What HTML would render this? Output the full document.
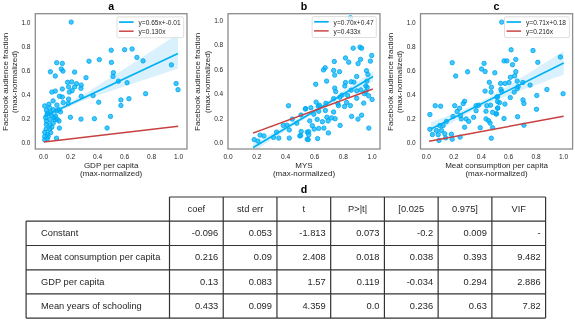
<!DOCTYPE html>
<html><head><meta charset="utf-8"><style>
html,body{margin:0;padding:0;background:#fff;}
svg{display:block;font-family:"Liberation Sans", sans-serif;will-change:transform;}
</style></head><body>
<svg width="575" height="321" viewBox="0 0 575 321">
<rect width="575" height="321" fill="#fff"/>
<text x="111.15" y="9.95" font-size="10.6" font-weight="bold" text-anchor="middle" fill="#000">a</text>
<text x="43.70" y="158.6" font-size="6.6" text-anchor="middle" fill="#262626">0.0</text>
<text x="70.66" y="158.6" font-size="6.6" text-anchor="middle" fill="#262626">0.2</text>
<text x="97.62" y="158.6" font-size="6.6" text-anchor="middle" fill="#262626">0.4</text>
<text x="124.58" y="158.6" font-size="6.6" text-anchor="middle" fill="#262626">0.6</text>
<text x="151.54" y="158.6" font-size="6.6" text-anchor="middle" fill="#262626">0.8</text>
<text x="178.50" y="158.6" font-size="6.6" text-anchor="middle" fill="#262626">1.0</text>
<text x="30.50" y="144.95" font-size="6.5" text-anchor="end" fill="#262626">0.0</text>
<text x="30.50" y="120.91" font-size="6.5" text-anchor="end" fill="#262626">0.2</text>
<text x="30.50" y="96.87" font-size="6.5" text-anchor="end" fill="#262626">0.4</text>
<text x="30.50" y="72.83" font-size="6.5" text-anchor="end" fill="#262626">0.6</text>
<text x="30.50" y="48.79" font-size="6.5" text-anchor="end" fill="#262626">0.8</text>
<text x="30.50" y="24.75" font-size="6.5" text-anchor="end" fill="#262626">1.0</text>
<text x="111.15" y="167.6" font-size="8.0" text-anchor="middle" fill="#262626">GDP per capita</text>
<text x="111.15" y="176.2" font-size="8.0" text-anchor="middle" fill="#262626">(max-normalized)</text>
<g transform="translate(7.50,81.85) rotate(-90)"><text x="0" y="0" font-size="8.0" text-anchor="middle" fill="#262626">Facebook audience fraction</text><text x="0" y="9.6" font-size="8.0" text-anchor="middle" fill="#262626">(max-normalized)</text></g>
<clipPath id="clipa"><rect x="35.3" y="13.7" width="151.7" height="135.3"/></clipPath>
<g clip-path="url(#clipa)">
<polygon points="43.9,110.6 47.3,109.5 50.6,108.4 54.0,107.3 57.3,106.2 60.7,105.0 64.0,103.8 67.4,102.4 70.7,101.0 74.1,99.4 77.4,97.7 80.8,95.9 84.1,93.9 87.5,92.0 90.8,89.9 94.2,87.9 97.5,85.8 100.9,83.7 104.2,81.6 107.6,79.4 110.9,77.3 114.3,75.2 117.7,73.0 121.0,70.9 124.4,68.7 127.7,66.6 131.1,64.4 134.4,62.2 137.8,60.1 141.1,57.9 144.5,55.7 147.8,53.6 151.2,51.4 154.5,49.2 157.9,47.0 161.2,44.9 164.6,42.7 167.9,40.5 171.3,38.3 174.6,36.2 178.0,34.0 178.0,68.7 174.6,69.8 171.3,70.9 167.9,72.0 164.6,73.1 161.2,74.2 157.9,75.3 154.5,76.4 151.2,77.5 147.8,78.6 144.5,79.7 141.1,80.8 137.8,82.0 134.4,83.1 131.1,84.2 127.7,85.3 124.4,86.4 121.0,87.5 117.7,88.6 114.3,89.8 110.9,90.9 107.6,92.0 104.2,93.2 100.9,94.3 97.5,95.5 94.2,96.7 90.8,97.8 87.5,99.1 84.1,100.3 80.8,101.6 77.4,103.0 74.1,104.5 70.7,106.0 67.4,107.7 64.0,109.4 60.7,111.3 57.3,113.1 54.0,115.1 50.6,117.0 47.3,119.0 43.9,121.0" fill="#d8f1fc"/>
<circle cx="71.2" cy="22.1" r="2.2" fill="#00b0f7" fill-opacity="0.72" stroke="#00aaf3" stroke-opacity="1" stroke-width="0.85"/>
<circle cx="56.7" cy="62.7" r="2.2" fill="#00b0f7" fill-opacity="0.72" stroke="#00aaf3" stroke-opacity="1" stroke-width="0.85"/>
<circle cx="62.3" cy="63.4" r="2.2" fill="#00b0f7" fill-opacity="0.72" stroke="#00aaf3" stroke-opacity="1" stroke-width="0.85"/>
<circle cx="61.3" cy="69.0" r="2.2" fill="#00b0f7" fill-opacity="0.72" stroke="#00aaf3" stroke-opacity="1" stroke-width="0.85"/>
<circle cx="63.0" cy="71.1" r="2.2" fill="#00b0f7" fill-opacity="0.72" stroke="#00aaf3" stroke-opacity="1" stroke-width="0.85"/>
<circle cx="50.4" cy="71.8" r="2.2" fill="#00b0f7" fill-opacity="0.72" stroke="#00aaf3" stroke-opacity="1" stroke-width="0.85"/>
<circle cx="55.3" cy="76.0" r="2.2" fill="#00b0f7" fill-opacity="0.72" stroke="#00aaf3" stroke-opacity="1" stroke-width="0.85"/>
<circle cx="74.6" cy="72.1" r="2.2" fill="#00b0f7" fill-opacity="0.72" stroke="#00aaf3" stroke-opacity="1" stroke-width="0.85"/>
<circle cx="86.0" cy="77.7" r="2.2" fill="#00b0f7" fill-opacity="0.72" stroke="#00aaf3" stroke-opacity="1" stroke-width="0.85"/>
<circle cx="67.6" cy="82.3" r="2.2" fill="#00b0f7" fill-opacity="0.72" stroke="#00aaf3" stroke-opacity="1" stroke-width="0.85"/>
<circle cx="71.7" cy="81.9" r="2.2" fill="#00b0f7" fill-opacity="0.72" stroke="#00aaf3" stroke-opacity="1" stroke-width="0.85"/>
<circle cx="76.6" cy="83.7" r="2.2" fill="#00b0f7" fill-opacity="0.72" stroke="#00aaf3" stroke-opacity="1" stroke-width="0.85"/>
<circle cx="81.2" cy="85.1" r="2.2" fill="#00b0f7" fill-opacity="0.72" stroke="#00aaf3" stroke-opacity="1" stroke-width="0.85"/>
<circle cx="68.6" cy="86.9" r="2.2" fill="#00b0f7" fill-opacity="0.72" stroke="#00aaf3" stroke-opacity="1" stroke-width="0.85"/>
<circle cx="74.6" cy="86.9" r="2.2" fill="#00b0f7" fill-opacity="0.72" stroke="#00aaf3" stroke-opacity="1" stroke-width="0.85"/>
<circle cx="80.9" cy="88.3" r="2.2" fill="#00b0f7" fill-opacity="0.72" stroke="#00aaf3" stroke-opacity="1" stroke-width="0.85"/>
<circle cx="62.3" cy="89.0" r="2.2" fill="#00b0f7" fill-opacity="0.72" stroke="#00aaf3" stroke-opacity="1" stroke-width="0.85"/>
<circle cx="72.1" cy="90.7" r="2.2" fill="#00b0f7" fill-opacity="0.72" stroke="#00aaf3" stroke-opacity="1" stroke-width="0.85"/>
<circle cx="69.3" cy="92.1" r="2.2" fill="#00b0f7" fill-opacity="0.72" stroke="#00aaf3" stroke-opacity="1" stroke-width="0.85"/>
<circle cx="55.3" cy="91.1" r="2.2" fill="#00b0f7" fill-opacity="0.72" stroke="#00aaf3" stroke-opacity="1" stroke-width="0.85"/>
<circle cx="51.8" cy="92.1" r="2.2" fill="#00b0f7" fill-opacity="0.72" stroke="#00aaf3" stroke-opacity="1" stroke-width="0.85"/>
<circle cx="59.5" cy="96.3" r="2.2" fill="#00b0f7" fill-opacity="0.72" stroke="#00aaf3" stroke-opacity="1" stroke-width="0.85"/>
<circle cx="62.3" cy="97.0" r="2.2" fill="#00b0f7" fill-opacity="0.72" stroke="#00aaf3" stroke-opacity="1" stroke-width="0.85"/>
<circle cx="68.6" cy="99.1" r="2.2" fill="#00b0f7" fill-opacity="0.72" stroke="#00aaf3" stroke-opacity="1" stroke-width="0.85"/>
<circle cx="81.2" cy="96.3" r="2.2" fill="#00b0f7" fill-opacity="0.72" stroke="#00aaf3" stroke-opacity="1" stroke-width="0.85"/>
<circle cx="63.2" cy="102.6" r="2.2" fill="#00b0f7" fill-opacity="0.72" stroke="#00aaf3" stroke-opacity="1" stroke-width="0.85"/>
<circle cx="68.3" cy="103.4" r="2.2" fill="#00b0f7" fill-opacity="0.72" stroke="#00aaf3" stroke-opacity="1" stroke-width="0.85"/>
<circle cx="53.1" cy="100.9" r="2.2" fill="#00b0f7" fill-opacity="0.72" stroke="#00aaf3" stroke-opacity="1" stroke-width="0.85"/>
<circle cx="44.7" cy="105.9" r="2.2" fill="#00b0f7" fill-opacity="0.72" stroke="#00aaf3" stroke-opacity="1" stroke-width="0.85"/>
<circle cx="48.9" cy="104.2" r="2.2" fill="#00b0f7" fill-opacity="0.72" stroke="#00aaf3" stroke-opacity="1" stroke-width="0.85"/>
<circle cx="56.9" cy="105.1" r="2.2" fill="#00b0f7" fill-opacity="0.72" stroke="#00aaf3" stroke-opacity="1" stroke-width="0.85"/>
<circle cx="59.0" cy="109.7" r="2.2" fill="#00b0f7" fill-opacity="0.72" stroke="#00aaf3" stroke-opacity="1" stroke-width="0.85"/>
<circle cx="53.1" cy="109.7" r="2.2" fill="#00b0f7" fill-opacity="0.72" stroke="#00aaf3" stroke-opacity="1" stroke-width="0.85"/>
<circle cx="46.4" cy="110.1" r="2.2" fill="#00b0f7" fill-opacity="0.72" stroke="#00aaf3" stroke-opacity="1" stroke-width="0.85"/>
<circle cx="47.2" cy="114.3" r="2.2" fill="#00b0f7" fill-opacity="0.72" stroke="#00aaf3" stroke-opacity="1" stroke-width="0.85"/>
<circle cx="51.4" cy="115.2" r="2.2" fill="#00b0f7" fill-opacity="0.72" stroke="#00aaf3" stroke-opacity="1" stroke-width="0.85"/>
<circle cx="55.6" cy="116.0" r="2.2" fill="#00b0f7" fill-opacity="0.72" stroke="#00aaf3" stroke-opacity="1" stroke-width="0.85"/>
<circle cx="45.6" cy="117.7" r="2.2" fill="#00b0f7" fill-opacity="0.72" stroke="#00aaf3" stroke-opacity="1" stroke-width="0.85"/>
<circle cx="49.8" cy="119.4" r="2.2" fill="#00b0f7" fill-opacity="0.72" stroke="#00aaf3" stroke-opacity="1" stroke-width="0.85"/>
<circle cx="57.3" cy="119.4" r="2.2" fill="#00b0f7" fill-opacity="0.72" stroke="#00aaf3" stroke-opacity="1" stroke-width="0.85"/>
<circle cx="70.4" cy="117.3" r="2.2" fill="#00b0f7" fill-opacity="0.72" stroke="#00aaf3" stroke-opacity="1" stroke-width="0.85"/>
<circle cx="46.4" cy="121.0" r="2.2" fill="#00b0f7" fill-opacity="0.72" stroke="#00aaf3" stroke-opacity="1" stroke-width="0.85"/>
<circle cx="59.0" cy="121.0" r="2.2" fill="#00b0f7" fill-opacity="0.72" stroke="#00aaf3" stroke-opacity="1" stroke-width="0.85"/>
<circle cx="59.4" cy="128.1" r="2.2" fill="#00b0f7" fill-opacity="0.72" stroke="#00aaf3" stroke-opacity="1" stroke-width="0.85"/>
<circle cx="56.5" cy="138.2" r="2.2" fill="#00b0f7" fill-opacity="0.72" stroke="#00aaf3" stroke-opacity="1" stroke-width="0.85"/>
<circle cx="54.8" cy="119.7" r="2.2" fill="#00b0f7" fill-opacity="0.72" stroke="#00aaf3" stroke-opacity="1" stroke-width="0.85"/>
<circle cx="46.4" cy="124.5" r="2.2" fill="#00b0f7" fill-opacity="0.72" stroke="#00aaf3" stroke-opacity="1" stroke-width="0.85"/>
<circle cx="49.8" cy="124.7" r="2.2" fill="#00b0f7" fill-opacity="0.72" stroke="#00aaf3" stroke-opacity="1" stroke-width="0.85"/>
<circle cx="46.2" cy="129.0" r="2.2" fill="#00b0f7" fill-opacity="0.72" stroke="#00aaf3" stroke-opacity="1" stroke-width="0.85"/>
<circle cx="49.8" cy="128.9" r="2.2" fill="#00b0f7" fill-opacity="0.72" stroke="#00aaf3" stroke-opacity="1" stroke-width="0.85"/>
<circle cx="44.7" cy="132.3" r="2.2" fill="#00b0f7" fill-opacity="0.72" stroke="#00aaf3" stroke-opacity="1" stroke-width="0.85"/>
<circle cx="50.6" cy="132.7" r="2.2" fill="#00b0f7" fill-opacity="0.72" stroke="#00aaf3" stroke-opacity="1" stroke-width="0.85"/>
<circle cx="44.7" cy="136.5" r="2.2" fill="#00b0f7" fill-opacity="0.72" stroke="#00aaf3" stroke-opacity="1" stroke-width="0.85"/>
<circle cx="48.1" cy="136.5" r="2.2" fill="#00b0f7" fill-opacity="0.72" stroke="#00aaf3" stroke-opacity="1" stroke-width="0.85"/>
<circle cx="44.7" cy="139.8" r="2.2" fill="#00b0f7" fill-opacity="0.72" stroke="#00aaf3" stroke-opacity="1" stroke-width="0.85"/>
<circle cx="47.2" cy="139.0" r="2.2" fill="#00b0f7" fill-opacity="0.72" stroke="#00aaf3" stroke-opacity="1" stroke-width="0.85"/>
<circle cx="111.2" cy="50.2" r="2.2" fill="#00b0f7" fill-opacity="0.72" stroke="#00aaf3" stroke-opacity="1" stroke-width="0.85"/>
<circle cx="124.6" cy="49.7" r="2.2" fill="#00b0f7" fill-opacity="0.72" stroke="#00aaf3" stroke-opacity="1" stroke-width="0.85"/>
<circle cx="132.1" cy="49.0" r="2.2" fill="#00b0f7" fill-opacity="0.72" stroke="#00aaf3" stroke-opacity="1" stroke-width="0.85"/>
<circle cx="89.0" cy="61.2" r="2.2" fill="#00b0f7" fill-opacity="0.72" stroke="#00aaf3" stroke-opacity="1" stroke-width="0.85"/>
<circle cx="99.3" cy="59.6" r="2.2" fill="#00b0f7" fill-opacity="0.72" stroke="#00aaf3" stroke-opacity="1" stroke-width="0.85"/>
<circle cx="111.4" cy="62.4" r="2.2" fill="#00b0f7" fill-opacity="0.72" stroke="#00aaf3" stroke-opacity="1" stroke-width="0.85"/>
<circle cx="113.4" cy="72.7" r="2.2" fill="#00b0f7" fill-opacity="0.72" stroke="#00aaf3" stroke-opacity="1" stroke-width="0.85"/>
<circle cx="113.0" cy="76.4" r="2.2" fill="#00b0f7" fill-opacity="0.72" stroke="#00aaf3" stroke-opacity="1" stroke-width="0.85"/>
<circle cx="93.1" cy="95.6" r="2.2" fill="#00b0f7" fill-opacity="0.72" stroke="#00aaf3" stroke-opacity="1" stroke-width="0.85"/>
<circle cx="118.4" cy="81.2" r="2.2" fill="#00b0f7" fill-opacity="0.72" stroke="#00aaf3" stroke-opacity="1" stroke-width="0.85"/>
<circle cx="127.1" cy="82.7" r="2.2" fill="#00b0f7" fill-opacity="0.72" stroke="#00aaf3" stroke-opacity="1" stroke-width="0.85"/>
<circle cx="98.7" cy="102.2" r="2.2" fill="#00b0f7" fill-opacity="0.72" stroke="#00aaf3" stroke-opacity="1" stroke-width="0.85"/>
<circle cx="120.9" cy="99.9" r="2.2" fill="#00b0f7" fill-opacity="0.72" stroke="#00aaf3" stroke-opacity="1" stroke-width="0.85"/>
<circle cx="120.9" cy="105.5" r="2.2" fill="#00b0f7" fill-opacity="0.72" stroke="#00aaf3" stroke-opacity="1" stroke-width="0.85"/>
<circle cx="128.9" cy="98.7" r="2.2" fill="#00b0f7" fill-opacity="0.72" stroke="#00aaf3" stroke-opacity="1" stroke-width="0.85"/>
<circle cx="136.9" cy="57.4" r="2.2" fill="#00b0f7" fill-opacity="0.72" stroke="#00aaf3" stroke-opacity="1" stroke-width="0.85"/>
<circle cx="143.1" cy="60.9" r="2.2" fill="#00b0f7" fill-opacity="0.72" stroke="#00aaf3" stroke-opacity="1" stroke-width="0.85"/>
<circle cx="171.4" cy="64.9" r="2.2" fill="#00b0f7" fill-opacity="0.72" stroke="#00aaf3" stroke-opacity="1" stroke-width="0.85"/>
<circle cx="176.1" cy="83.5" r="2.2" fill="#00b0f7" fill-opacity="0.72" stroke="#00aaf3" stroke-opacity="1" stroke-width="0.85"/>
<circle cx="178.0" cy="89.7" r="2.2" fill="#00b0f7" fill-opacity="0.72" stroke="#00aaf3" stroke-opacity="1" stroke-width="0.85"/>
<circle cx="145.6" cy="93.7" r="2.2" fill="#00b0f7" fill-opacity="0.72" stroke="#00aaf3" stroke-opacity="1" stroke-width="0.85"/>
<circle cx="81.0" cy="119.1" r="2.2" fill="#00b0f7" fill-opacity="0.72" stroke="#00aaf3" stroke-opacity="1" stroke-width="0.85"/>
<circle cx="94.4" cy="118.7" r="2.2" fill="#00b0f7" fill-opacity="0.72" stroke="#00aaf3" stroke-opacity="1" stroke-width="0.85"/>
<circle cx="110.5" cy="116.4" r="2.2" fill="#00b0f7" fill-opacity="0.72" stroke="#00aaf3" stroke-opacity="1" stroke-width="0.85"/>
<circle cx="107.1" cy="128.0" r="2.2" fill="#00b0f7" fill-opacity="0.72" stroke="#00aaf3" stroke-opacity="1" stroke-width="0.85"/>
<circle cx="49.5" cy="107.8" r="2.2" fill="#00b0f7" fill-opacity="0.72" stroke="#00aaf3" stroke-opacity="1" stroke-width="0.85"/>
<circle cx="56.5" cy="110.8" r="2.2" fill="#00b0f7" fill-opacity="0.72" stroke="#00aaf3" stroke-opacity="1" stroke-width="0.85"/>
<circle cx="50.5" cy="112.5" r="2.2" fill="#00b0f7" fill-opacity="0.72" stroke="#00aaf3" stroke-opacity="1" stroke-width="0.85"/>
<circle cx="60.5" cy="111.8" r="2.2" fill="#00b0f7" fill-opacity="0.72" stroke="#00aaf3" stroke-opacity="1" stroke-width="0.85"/>
<circle cx="54.0" cy="117.5" r="2.2" fill="#00b0f7" fill-opacity="0.72" stroke="#00aaf3" stroke-opacity="1" stroke-width="0.85"/>
<circle cx="47.8" cy="113.5" r="2.2" fill="#00b0f7" fill-opacity="0.72" stroke="#00aaf3" stroke-opacity="1" stroke-width="0.85"/>
<circle cx="47.5" cy="134.2" r="2.2" fill="#00b0f7" fill-opacity="0.72" stroke="#00aaf3" stroke-opacity="1" stroke-width="0.85"/>
<circle cx="53.2" cy="123.2" r="2.2" fill="#00b0f7" fill-opacity="0.72" stroke="#00aaf3" stroke-opacity="1" stroke-width="0.85"/>
<circle cx="51.8" cy="127.3" r="2.2" fill="#00b0f7" fill-opacity="0.72" stroke="#00aaf3" stroke-opacity="1" stroke-width="0.85"/>
<line x1="43.9" y1="116.4" x2="178.0" y2="53.5" stroke="#00b0f3" stroke-width="1.7"/>
<line x1="43.9" y1="142.0" x2="178.2" y2="126.2" stroke="#c94040" stroke-width="1.45"/>
</g>
<rect x="35.3" y="13.7" width="151.70" height="135.30" fill="none" stroke="#8c8c8c" stroke-width="1.3"/>
<rect x="117" y="16.9" width="66.70" height="20.80" rx="1.6" fill="#fff" fill-opacity="0.8" stroke="#d6d6d6" stroke-width="0.8"/>
<line x1="119" y1="22.10" x2="133.60" y2="22.10" stroke="#00b0f3" stroke-width="1.7"/>
<line x1="119" y1="31.20" x2="133.60" y2="31.20" stroke="#c94040" stroke-width="1.45"/>
<text x="138.50" y="25.10" font-size="6.6" fill="#262626">y=0.65x+-0.01</text>
<text x="138.50" y="34.00" font-size="6.6" fill="#262626">y=0.130x</text>
<text x="304.00" y="9.95" font-size="10.6" font-weight="bold" text-anchor="middle" fill="#000">b</text>
<text x="228.00" y="158.6" font-size="6.6" text-anchor="middle" fill="#262626">0.0</text>
<text x="256.84" y="158.6" font-size="6.6" text-anchor="middle" fill="#262626">0.2</text>
<text x="285.68" y="158.6" font-size="6.6" text-anchor="middle" fill="#262626">0.4</text>
<text x="314.52" y="158.6" font-size="6.6" text-anchor="middle" fill="#262626">0.6</text>
<text x="343.36" y="158.6" font-size="6.6" text-anchor="middle" fill="#262626">0.8</text>
<text x="372.20" y="158.6" font-size="6.6" text-anchor="middle" fill="#262626">1.0</text>
<text x="223.20" y="145.45" font-size="6.5" text-anchor="end" fill="#262626">0.0</text>
<text x="223.20" y="120.89" font-size="6.5" text-anchor="end" fill="#262626">0.2</text>
<text x="223.20" y="96.33" font-size="6.5" text-anchor="end" fill="#262626">0.4</text>
<text x="223.20" y="71.77" font-size="6.5" text-anchor="end" fill="#262626">0.6</text>
<text x="223.20" y="47.21" font-size="6.5" text-anchor="end" fill="#262626">0.8</text>
<text x="223.20" y="22.65" font-size="6.5" text-anchor="end" fill="#262626">1.0</text>
<text x="304.00" y="167.6" font-size="8.0" text-anchor="middle" fill="#262626">MYS</text>
<text x="304.00" y="176.2" font-size="8.0" text-anchor="middle" fill="#262626">(max-normalized)</text>
<g transform="translate(200.20,81.85) rotate(-90)"><text x="0" y="0" font-size="8.0" text-anchor="middle" fill="#262626">Facebook audience fraction</text><text x="0" y="9.6" font-size="8.0" text-anchor="middle" fill="#262626">(max-normalized)</text></g>
<clipPath id="clipb"><rect x="228.0" y="13.7" width="152.0" height="135.3"/></clipPath>
<g clip-path="url(#clipb)">
<polygon points="253.1,143.3 256.1,141.7 259.1,140.1 262.1,138.5 265.1,136.9 268.1,135.3 271.1,133.7 274.1,132.1 277.1,130.5 280.1,128.8 283.1,127.2 286.1,125.6 289.1,123.9 292.1,122.2 295.1,120.5 298.1,118.8 301.1,117.1 304.1,115.4 307.1,113.6 310.1,111.8 313.1,110.0 316.0,108.2 319.0,106.3 322.0,104.5 325.0,102.6 328.0,100.7 331.0,98.8 334.0,96.8 337.0,94.9 340.0,93.0 343.0,91.0 346.0,89.1 349.0,87.1 352.0,85.2 355.0,83.2 358.0,81.3 361.0,79.3 364.0,77.3 367.0,75.4 370.0,73.4 373.0,71.4 373.0,81.6 370.0,83.2 367.0,84.7 364.0,86.3 361.0,87.9 358.0,89.5 355.0,91.1 352.0,92.7 349.0,94.3 346.0,95.9 343.0,97.5 340.0,99.1 337.0,100.7 334.0,102.4 331.0,104.0 328.0,105.7 325.0,107.3 322.0,109.0 319.0,110.7 316.0,112.4 313.1,114.1 310.1,115.8 307.1,117.6 304.1,119.4 301.1,121.2 298.1,123.0 295.1,124.9 292.1,126.8 289.1,128.6 286.1,130.5 283.1,132.4 280.1,134.4 277.1,136.3 274.1,138.2 271.1,140.2 268.1,142.1 265.1,144.1 262.1,146.0 259.1,148.0 256.1,149.9 253.1,151.9" fill="#d8f1fc"/>
<circle cx="353.2" cy="48.2" r="2.2" fill="#00b0f7" fill-opacity="0.72" stroke="#00aaf3" stroke-opacity="1" stroke-width="0.85"/>
<circle cx="360.0" cy="47.1" r="2.2" fill="#00b0f7" fill-opacity="0.72" stroke="#00aaf3" stroke-opacity="1" stroke-width="0.85"/>
<circle cx="361.6" cy="48.2" r="2.2" fill="#00b0f7" fill-opacity="0.72" stroke="#00aaf3" stroke-opacity="1" stroke-width="0.85"/>
<circle cx="371.7" cy="55.5" r="2.2" fill="#00b0f7" fill-opacity="0.72" stroke="#00aaf3" stroke-opacity="1" stroke-width="0.85"/>
<circle cx="345.5" cy="58.0" r="2.2" fill="#00b0f7" fill-opacity="0.72" stroke="#00aaf3" stroke-opacity="1" stroke-width="0.85"/>
<circle cx="348.7" cy="62.2" r="2.2" fill="#00b0f7" fill-opacity="0.72" stroke="#00aaf3" stroke-opacity="1" stroke-width="0.85"/>
<circle cx="360.5" cy="59.4" r="2.2" fill="#00b0f7" fill-opacity="0.72" stroke="#00aaf3" stroke-opacity="1" stroke-width="0.85"/>
<circle cx="358.1" cy="63.6" r="2.2" fill="#00b0f7" fill-opacity="0.72" stroke="#00aaf3" stroke-opacity="1" stroke-width="0.85"/>
<circle cx="370.4" cy="61.1" r="2.2" fill="#00b0f7" fill-opacity="0.72" stroke="#00aaf3" stroke-opacity="1" stroke-width="0.85"/>
<circle cx="334.3" cy="61.5" r="2.2" fill="#00b0f7" fill-opacity="0.72" stroke="#00aaf3" stroke-opacity="1" stroke-width="0.85"/>
<circle cx="325.2" cy="67.8" r="2.2" fill="#00b0f7" fill-opacity="0.72" stroke="#00aaf3" stroke-opacity="1" stroke-width="0.85"/>
<circle cx="323.5" cy="69.9" r="2.2" fill="#00b0f7" fill-opacity="0.72" stroke="#00aaf3" stroke-opacity="1" stroke-width="0.85"/>
<circle cx="333.6" cy="70.4" r="2.2" fill="#00b0f7" fill-opacity="0.72" stroke="#00aaf3" stroke-opacity="1" stroke-width="0.85"/>
<circle cx="339.5" cy="71.7" r="2.2" fill="#00b0f7" fill-opacity="0.72" stroke="#00aaf3" stroke-opacity="1" stroke-width="0.85"/>
<circle cx="366.5" cy="70.7" r="2.2" fill="#00b0f7" fill-opacity="0.72" stroke="#00aaf3" stroke-opacity="1" stroke-width="0.85"/>
<circle cx="367.9" cy="74.5" r="2.2" fill="#00b0f7" fill-opacity="0.72" stroke="#00aaf3" stroke-opacity="1" stroke-width="0.85"/>
<circle cx="334.7" cy="75.1" r="2.2" fill="#00b0f7" fill-opacity="0.72" stroke="#00aaf3" stroke-opacity="1" stroke-width="0.85"/>
<circle cx="356.7" cy="76.5" r="2.2" fill="#00b0f7" fill-opacity="0.72" stroke="#00aaf3" stroke-opacity="1" stroke-width="0.85"/>
<circle cx="326.6" cy="81.1" r="2.2" fill="#00b0f7" fill-opacity="0.72" stroke="#00aaf3" stroke-opacity="1" stroke-width="0.85"/>
<circle cx="315.7" cy="84.3" r="2.2" fill="#00b0f7" fill-opacity="0.72" stroke="#00aaf3" stroke-opacity="1" stroke-width="0.85"/>
<circle cx="345.5" cy="82.5" r="2.2" fill="#00b0f7" fill-opacity="0.72" stroke="#00aaf3" stroke-opacity="1" stroke-width="0.85"/>
<circle cx="351.1" cy="81.8" r="2.2" fill="#00b0f7" fill-opacity="0.72" stroke="#00aaf3" stroke-opacity="1" stroke-width="0.85"/>
<circle cx="353.9" cy="82.1" r="2.2" fill="#00b0f7" fill-opacity="0.72" stroke="#00aaf3" stroke-opacity="1" stroke-width="0.85"/>
<circle cx="344.8" cy="86.0" r="2.2" fill="#00b0f7" fill-opacity="0.72" stroke="#00aaf3" stroke-opacity="1" stroke-width="0.85"/>
<circle cx="366.9" cy="81.1" r="2.2" fill="#00b0f7" fill-opacity="0.72" stroke="#00aaf3" stroke-opacity="1" stroke-width="0.85"/>
<circle cx="365.8" cy="86.0" r="2.2" fill="#00b0f7" fill-opacity="0.72" stroke="#00aaf3" stroke-opacity="1" stroke-width="0.85"/>
<circle cx="367.2" cy="87.4" r="2.2" fill="#00b0f7" fill-opacity="0.72" stroke="#00aaf3" stroke-opacity="1" stroke-width="0.85"/>
<circle cx="334.7" cy="88.1" r="2.2" fill="#00b0f7" fill-opacity="0.72" stroke="#00aaf3" stroke-opacity="1" stroke-width="0.85"/>
<circle cx="335.7" cy="91.6" r="2.2" fill="#00b0f7" fill-opacity="0.72" stroke="#00aaf3" stroke-opacity="1" stroke-width="0.85"/>
<circle cx="351.1" cy="90.2" r="2.2" fill="#00b0f7" fill-opacity="0.72" stroke="#00aaf3" stroke-opacity="1" stroke-width="0.85"/>
<circle cx="356.7" cy="90.9" r="2.2" fill="#00b0f7" fill-opacity="0.72" stroke="#00aaf3" stroke-opacity="1" stroke-width="0.85"/>
<circle cx="360.9" cy="89.9" r="2.2" fill="#00b0f7" fill-opacity="0.72" stroke="#00aaf3" stroke-opacity="1" stroke-width="0.85"/>
<circle cx="365.8" cy="91.6" r="2.2" fill="#00b0f7" fill-opacity="0.72" stroke="#00aaf3" stroke-opacity="1" stroke-width="0.85"/>
<circle cx="342.0" cy="95.1" r="2.2" fill="#00b0f7" fill-opacity="0.72" stroke="#00aaf3" stroke-opacity="1" stroke-width="0.85"/>
<circle cx="347.6" cy="95.5" r="2.2" fill="#00b0f7" fill-opacity="0.72" stroke="#00aaf3" stroke-opacity="1" stroke-width="0.85"/>
<circle cx="364.4" cy="93.7" r="2.2" fill="#00b0f7" fill-opacity="0.72" stroke="#00aaf3" stroke-opacity="1" stroke-width="0.85"/>
<circle cx="368.6" cy="95.8" r="2.2" fill="#00b0f7" fill-opacity="0.72" stroke="#00aaf3" stroke-opacity="1" stroke-width="0.85"/>
<circle cx="333.6" cy="98.6" r="2.2" fill="#00b0f7" fill-opacity="0.72" stroke="#00aaf3" stroke-opacity="1" stroke-width="0.85"/>
<circle cx="339.9" cy="97.2" r="2.2" fill="#00b0f7" fill-opacity="0.72" stroke="#00aaf3" stroke-opacity="1" stroke-width="0.85"/>
<circle cx="356.7" cy="98.3" r="2.2" fill="#00b0f7" fill-opacity="0.72" stroke="#00aaf3" stroke-opacity="1" stroke-width="0.85"/>
<circle cx="372.1" cy="99.5" r="2.2" fill="#00b0f7" fill-opacity="0.72" stroke="#00aaf3" stroke-opacity="1" stroke-width="0.85"/>
<circle cx="316.1" cy="102.1" r="2.2" fill="#00b0f7" fill-opacity="0.72" stroke="#00aaf3" stroke-opacity="1" stroke-width="0.85"/>
<circle cx="325.9" cy="103.3" r="2.2" fill="#00b0f7" fill-opacity="0.72" stroke="#00aaf3" stroke-opacity="1" stroke-width="0.85"/>
<circle cx="337.8" cy="103.5" r="2.2" fill="#00b0f7" fill-opacity="0.72" stroke="#00aaf3" stroke-opacity="1" stroke-width="0.85"/>
<circle cx="346.6" cy="102.5" r="2.2" fill="#00b0f7" fill-opacity="0.72" stroke="#00aaf3" stroke-opacity="1" stroke-width="0.85"/>
<circle cx="363.7" cy="103.1" r="2.2" fill="#00b0f7" fill-opacity="0.72" stroke="#00aaf3" stroke-opacity="1" stroke-width="0.85"/>
<circle cx="338.5" cy="105.6" r="2.2" fill="#00b0f7" fill-opacity="0.72" stroke="#00aaf3" stroke-opacity="1" stroke-width="0.85"/>
<circle cx="350.4" cy="105.6" r="2.2" fill="#00b0f7" fill-opacity="0.72" stroke="#00aaf3" stroke-opacity="1" stroke-width="0.85"/>
<circle cx="305.6" cy="108.6" r="2.2" fill="#00b0f7" fill-opacity="0.72" stroke="#00aaf3" stroke-opacity="1" stroke-width="0.85"/>
<circle cx="310.9" cy="107.7" r="2.2" fill="#00b0f7" fill-opacity="0.72" stroke="#00aaf3" stroke-opacity="1" stroke-width="0.85"/>
<circle cx="318.2" cy="106.3" r="2.2" fill="#00b0f7" fill-opacity="0.72" stroke="#00aaf3" stroke-opacity="1" stroke-width="0.85"/>
<circle cx="288.5" cy="105.7" r="2.2" fill="#00b0f7" fill-opacity="0.72" stroke="#00aaf3" stroke-opacity="1" stroke-width="0.85"/>
<circle cx="305.4" cy="109.0" r="2.2" fill="#00b0f7" fill-opacity="0.72" stroke="#00aaf3" stroke-opacity="1" stroke-width="0.85"/>
<circle cx="301.0" cy="115.0" r="2.2" fill="#00b0f7" fill-opacity="0.72" stroke="#00aaf3" stroke-opacity="1" stroke-width="0.85"/>
<circle cx="292.3" cy="119.1" r="2.2" fill="#00b0f7" fill-opacity="0.72" stroke="#00aaf3" stroke-opacity="1" stroke-width="0.85"/>
<circle cx="296.8" cy="123.2" r="2.2" fill="#00b0f7" fill-opacity="0.72" stroke="#00aaf3" stroke-opacity="1" stroke-width="0.85"/>
<circle cx="283.3" cy="125.4" r="2.2" fill="#00b0f7" fill-opacity="0.72" stroke="#00aaf3" stroke-opacity="1" stroke-width="0.85"/>
<circle cx="287.0" cy="125.1" r="2.2" fill="#00b0f7" fill-opacity="0.72" stroke="#00aaf3" stroke-opacity="1" stroke-width="0.85"/>
<circle cx="289.3" cy="129.9" r="2.2" fill="#00b0f7" fill-opacity="0.72" stroke="#00aaf3" stroke-opacity="1" stroke-width="0.85"/>
<circle cx="276.6" cy="132.1" r="2.2" fill="#00b0f7" fill-opacity="0.72" stroke="#00aaf3" stroke-opacity="1" stroke-width="0.85"/>
<circle cx="273.6" cy="137.4" r="2.2" fill="#00b0f7" fill-opacity="0.72" stroke="#00aaf3" stroke-opacity="1" stroke-width="0.85"/>
<circle cx="278.8" cy="138.1" r="2.2" fill="#00b0f7" fill-opacity="0.72" stroke="#00aaf3" stroke-opacity="1" stroke-width="0.85"/>
<circle cx="289.3" cy="138.1" r="2.2" fill="#00b0f7" fill-opacity="0.72" stroke="#00aaf3" stroke-opacity="1" stroke-width="0.85"/>
<circle cx="301.2" cy="131.5" r="2.2" fill="#00b0f7" fill-opacity="0.72" stroke="#00aaf3" stroke-opacity="1" stroke-width="0.85"/>
<circle cx="299.8" cy="135.9" r="2.2" fill="#00b0f7" fill-opacity="0.72" stroke="#00aaf3" stroke-opacity="1" stroke-width="0.85"/>
<circle cx="307.2" cy="132.1" r="2.2" fill="#00b0f7" fill-opacity="0.72" stroke="#00aaf3" stroke-opacity="1" stroke-width="0.85"/>
<circle cx="307.2" cy="139.2" r="2.2" fill="#00b0f7" fill-opacity="0.72" stroke="#00aaf3" stroke-opacity="1" stroke-width="0.85"/>
<circle cx="260.1" cy="135.1" r="2.2" fill="#00b0f7" fill-opacity="0.72" stroke="#00aaf3" stroke-opacity="1" stroke-width="0.85"/>
<circle cx="263.9" cy="135.9" r="2.2" fill="#00b0f7" fill-opacity="0.72" stroke="#00aaf3" stroke-opacity="1" stroke-width="0.85"/>
<circle cx="254.2" cy="139.6" r="2.2" fill="#00b0f7" fill-opacity="0.72" stroke="#00aaf3" stroke-opacity="1" stroke-width="0.85"/>
<circle cx="257.9" cy="141.1" r="2.2" fill="#00b0f7" fill-opacity="0.72" stroke="#00aaf3" stroke-opacity="1" stroke-width="0.85"/>
<circle cx="319.4" cy="105.2" r="2.2" fill="#00b0f7" fill-opacity="0.72" stroke="#00aaf3" stroke-opacity="1" stroke-width="0.85"/>
<circle cx="318.7" cy="111.2" r="2.2" fill="#00b0f7" fill-opacity="0.72" stroke="#00aaf3" stroke-opacity="1" stroke-width="0.85"/>
<circle cx="325.4" cy="110.5" r="2.2" fill="#00b0f7" fill-opacity="0.72" stroke="#00aaf3" stroke-opacity="1" stroke-width="0.85"/>
<circle cx="313.8" cy="114.2" r="2.2" fill="#00b0f7" fill-opacity="0.72" stroke="#00aaf3" stroke-opacity="1" stroke-width="0.85"/>
<circle cx="333.6" cy="112.0" r="2.2" fill="#00b0f7" fill-opacity="0.72" stroke="#00aaf3" stroke-opacity="1" stroke-width="0.85"/>
<circle cx="326.9" cy="117.2" r="2.2" fill="#00b0f7" fill-opacity="0.72" stroke="#00aaf3" stroke-opacity="1" stroke-width="0.85"/>
<circle cx="331.4" cy="117.9" r="2.2" fill="#00b0f7" fill-opacity="0.72" stroke="#00aaf3" stroke-opacity="1" stroke-width="0.85"/>
<circle cx="335.1" cy="118.7" r="2.2" fill="#00b0f7" fill-opacity="0.72" stroke="#00aaf3" stroke-opacity="1" stroke-width="0.85"/>
<circle cx="328.1" cy="120.9" r="2.2" fill="#00b0f7" fill-opacity="0.72" stroke="#00aaf3" stroke-opacity="1" stroke-width="0.85"/>
<circle cx="317.2" cy="119.4" r="2.2" fill="#00b0f7" fill-opacity="0.72" stroke="#00aaf3" stroke-opacity="1" stroke-width="0.85"/>
<circle cx="309.7" cy="120.9" r="2.2" fill="#00b0f7" fill-opacity="0.72" stroke="#00aaf3" stroke-opacity="1" stroke-width="0.85"/>
<circle cx="322.4" cy="121.7" r="2.2" fill="#00b0f7" fill-opacity="0.72" stroke="#00aaf3" stroke-opacity="1" stroke-width="0.85"/>
<circle cx="351.6" cy="116.4" r="2.2" fill="#00b0f7" fill-opacity="0.72" stroke="#00aaf3" stroke-opacity="1" stroke-width="0.85"/>
<circle cx="361.6" cy="115.2" r="2.2" fill="#00b0f7" fill-opacity="0.72" stroke="#00aaf3" stroke-opacity="1" stroke-width="0.85"/>
<circle cx="358.0" cy="119.1" r="2.2" fill="#00b0f7" fill-opacity="0.72" stroke="#00aaf3" stroke-opacity="1" stroke-width="0.85"/>
<circle cx="312.3" cy="125.7" r="2.2" fill="#00b0f7" fill-opacity="0.72" stroke="#00aaf3" stroke-opacity="1" stroke-width="0.85"/>
<circle cx="314.2" cy="129.1" r="2.2" fill="#00b0f7" fill-opacity="0.72" stroke="#00aaf3" stroke-opacity="1" stroke-width="0.85"/>
<circle cx="318.7" cy="128.4" r="2.2" fill="#00b0f7" fill-opacity="0.72" stroke="#00aaf3" stroke-opacity="1" stroke-width="0.85"/>
<circle cx="323.9" cy="128.1" r="2.2" fill="#00b0f7" fill-opacity="0.72" stroke="#00aaf3" stroke-opacity="1" stroke-width="0.85"/>
<circle cx="340.1" cy="125.4" r="2.2" fill="#00b0f7" fill-opacity="0.72" stroke="#00aaf3" stroke-opacity="1" stroke-width="0.85"/>
<circle cx="368.8" cy="128.1" r="2.2" fill="#00b0f7" fill-opacity="0.72" stroke="#00aaf3" stroke-opacity="1" stroke-width="0.85"/>
<circle cx="308.7" cy="131.7" r="2.2" fill="#00b0f7" fill-opacity="0.72" stroke="#00aaf3" stroke-opacity="1" stroke-width="0.85"/>
<circle cx="308.7" cy="134.7" r="2.2" fill="#00b0f7" fill-opacity="0.72" stroke="#00aaf3" stroke-opacity="1" stroke-width="0.85"/>
<circle cx="300.7" cy="135.6" r="2.2" fill="#00b0f7" fill-opacity="0.72" stroke="#00aaf3" stroke-opacity="1" stroke-width="0.85"/>
<circle cx="328.4" cy="132.9" r="2.2" fill="#00b0f7" fill-opacity="0.72" stroke="#00aaf3" stroke-opacity="1" stroke-width="0.85"/>
<circle cx="308.2" cy="139.6" r="2.2" fill="#00b0f7" fill-opacity="0.72" stroke="#00aaf3" stroke-opacity="1" stroke-width="0.85"/>
<circle cx="317.6" cy="138.6" r="2.2" fill="#00b0f7" fill-opacity="0.72" stroke="#00aaf3" stroke-opacity="1" stroke-width="0.85"/>
<circle cx="350.5" cy="17.8" r="2.2" fill="#00b0f7" fill-opacity="0.72" stroke="#00aaf3" stroke-opacity="1" stroke-width="0.85"/>
<circle cx="344.6" cy="106.5" r="2.2" fill="#00b0f7" fill-opacity="0.72" stroke="#00aaf3" stroke-opacity="1" stroke-width="0.85"/>
<line x1="253.1" y1="147.6" x2="373.0" y2="76.5" stroke="#00b0f3" stroke-width="1.7"/>
<line x1="253.1" y1="133.0" x2="372.8" y2="89.0" stroke="#c94040" stroke-width="1.45"/>
</g>
<rect x="228.0" y="13.7" width="152.00" height="135.30" fill="none" stroke="#8c8c8c" stroke-width="1.3"/>
<rect x="312.1" y="16.6" width="64.20" height="20.90" rx="1.6" fill="#fff" fill-opacity="0.8" stroke="#d6d6d6" stroke-width="0.8"/>
<line x1="314.1" y1="21.80" x2="328.70" y2="21.80" stroke="#00b0f3" stroke-width="1.7"/>
<line x1="314.1" y1="30.90" x2="328.70" y2="30.90" stroke="#c94040" stroke-width="1.45"/>
<text x="333.60" y="24.80" font-size="6.6" fill="#262626">y=0.70x+0.47</text>
<text x="333.60" y="33.70" font-size="6.6" fill="#262626">y=0.433x</text>
<text x="496.55" y="9.95" font-size="10.6" font-weight="bold" text-anchor="middle" fill="#000">c</text>
<text x="426.40" y="158.6" font-size="6.6" text-anchor="middle" fill="#262626">0.0</text>
<text x="453.82" y="158.6" font-size="6.6" text-anchor="middle" fill="#262626">0.2</text>
<text x="481.24" y="158.6" font-size="6.6" text-anchor="middle" fill="#262626">0.4</text>
<text x="508.66" y="158.6" font-size="6.6" text-anchor="middle" fill="#262626">0.6</text>
<text x="536.08" y="158.6" font-size="6.6" text-anchor="middle" fill="#262626">0.8</text>
<text x="563.50" y="158.6" font-size="6.6" text-anchor="middle" fill="#262626">1.0</text>
<text x="415.70" y="144.95" font-size="6.5" text-anchor="end" fill="#262626">0.0</text>
<text x="415.70" y="121.03" font-size="6.5" text-anchor="end" fill="#262626">0.2</text>
<text x="415.70" y="97.11" font-size="6.5" text-anchor="end" fill="#262626">0.4</text>
<text x="415.70" y="73.19" font-size="6.5" text-anchor="end" fill="#262626">0.6</text>
<text x="415.70" y="49.27" font-size="6.5" text-anchor="end" fill="#262626">0.8</text>
<text x="415.70" y="25.35" font-size="6.5" text-anchor="end" fill="#262626">1.0</text>
<text x="496.55" y="167.6" font-size="8.0" text-anchor="middle" fill="#262626">Meat consumption per capita</text>
<text x="496.55" y="176.2" font-size="8.0" text-anchor="middle" fill="#262626">(max-normalized)</text>
<g transform="translate(392.70,81.85) rotate(-90)"><text x="0" y="0" font-size="8.0" text-anchor="middle" fill="#262626">Facebook audience fraction</text><text x="0" y="9.6" font-size="8.0" text-anchor="middle" fill="#262626">(max-normalized)</text></g>
<clipPath id="clipc"><rect x="420.5" y="13.7" width="152.10000000000002" height="135.3"/></clipPath>
<g clip-path="url(#clipc)">
<polygon points="431.0,122.2 434.3,121.0 437.6,119.7 441.0,118.5 444.3,117.2 447.6,116.0 450.9,114.7 454.2,113.4 457.5,112.1 460.9,110.7 464.2,109.4 467.5,108.0 470.8,106.5 474.1,105.0 477.4,103.4 480.8,101.7 484.1,99.9 487.4,98.1 490.7,96.2 494.0,94.3 497.4,92.3 500.7,90.4 504.0,88.4 507.3,86.3 510.6,84.3 513.9,82.3 517.3,80.2 520.6,78.1 523.9,76.1 527.2,74.0 530.5,71.9 533.8,69.9 537.2,67.8 540.5,65.7 543.8,63.6 547.1,61.6 550.4,59.5 553.7,57.4 557.1,55.3 560.4,53.2 563.7,51.1 563.7,74.7 560.4,75.9 557.1,77.1 553.7,78.3 550.4,79.5 547.1,80.8 543.8,82.0 540.5,83.2 537.2,84.4 533.8,85.7 530.5,86.9 527.2,88.1 523.9,89.4 520.6,90.6 517.3,91.9 513.9,93.1 510.6,94.4 507.3,95.7 504.0,96.9 500.7,98.2 497.4,99.6 494.0,100.9 490.7,102.3 487.4,103.7 484.1,105.2 480.8,106.7 477.4,108.4 474.1,110.1 470.8,111.8 467.5,113.7 464.2,115.6 460.9,117.5 457.5,119.5 454.2,121.5 450.9,123.5 447.6,125.5 444.3,127.6 441.0,129.6 437.6,131.7 434.3,133.7 431.0,135.8" fill="#d8f1fc"/>
<circle cx="501.7" cy="22.1" r="2.2" fill="#00b0f7" fill-opacity="0.72" stroke="#00aaf3" stroke-opacity="1" stroke-width="0.85"/>
<circle cx="511.1" cy="49.8" r="2.2" fill="#00b0f7" fill-opacity="0.72" stroke="#00aaf3" stroke-opacity="1" stroke-width="0.85"/>
<circle cx="533.0" cy="50.5" r="2.2" fill="#00b0f7" fill-opacity="0.72" stroke="#00aaf3" stroke-opacity="1" stroke-width="0.85"/>
<circle cx="560.4" cy="57.0" r="2.2" fill="#00b0f7" fill-opacity="0.72" stroke="#00aaf3" stroke-opacity="1" stroke-width="0.85"/>
<circle cx="515.8" cy="59.5" r="2.2" fill="#00b0f7" fill-opacity="0.72" stroke="#00aaf3" stroke-opacity="1" stroke-width="0.85"/>
<circle cx="452.2" cy="62.7" r="2.2" fill="#00b0f7" fill-opacity="0.72" stroke="#00aaf3" stroke-opacity="1" stroke-width="0.85"/>
<circle cx="484.1" cy="63.4" r="2.2" fill="#00b0f7" fill-opacity="0.72" stroke="#00aaf3" stroke-opacity="1" stroke-width="0.85"/>
<circle cx="467.6" cy="71.8" r="2.2" fill="#00b0f7" fill-opacity="0.72" stroke="#00aaf3" stroke-opacity="1" stroke-width="0.85"/>
<circle cx="455.7" cy="76.0" r="2.2" fill="#00b0f7" fill-opacity="0.72" stroke="#00aaf3" stroke-opacity="1" stroke-width="0.85"/>
<circle cx="481.6" cy="69.0" r="2.2" fill="#00b0f7" fill-opacity="0.72" stroke="#00aaf3" stroke-opacity="1" stroke-width="0.85"/>
<circle cx="485.1" cy="71.5" r="2.2" fill="#00b0f7" fill-opacity="0.72" stroke="#00aaf3" stroke-opacity="1" stroke-width="0.85"/>
<circle cx="494.8" cy="72.8" r="2.2" fill="#00b0f7" fill-opacity="0.72" stroke="#00aaf3" stroke-opacity="1" stroke-width="0.85"/>
<circle cx="489.3" cy="82.3" r="2.2" fill="#00b0f7" fill-opacity="0.72" stroke="#00aaf3" stroke-opacity="1" stroke-width="0.85"/>
<circle cx="491.4" cy="87.2" r="2.2" fill="#00b0f7" fill-opacity="0.72" stroke="#00aaf3" stroke-opacity="1" stroke-width="0.85"/>
<circle cx="485.1" cy="91.1" r="2.2" fill="#00b0f7" fill-opacity="0.72" stroke="#00aaf3" stroke-opacity="1" stroke-width="0.85"/>
<circle cx="491.1" cy="92.1" r="2.2" fill="#00b0f7" fill-opacity="0.72" stroke="#00aaf3" stroke-opacity="1" stroke-width="0.85"/>
<circle cx="504.1" cy="60.9" r="2.2" fill="#00b0f7" fill-opacity="0.72" stroke="#00aaf3" stroke-opacity="1" stroke-width="0.85"/>
<circle cx="506.9" cy="60.9" r="2.2" fill="#00b0f7" fill-opacity="0.72" stroke="#00aaf3" stroke-opacity="1" stroke-width="0.85"/>
<circle cx="512.5" cy="64.7" r="2.2" fill="#00b0f7" fill-opacity="0.72" stroke="#00aaf3" stroke-opacity="1" stroke-width="0.85"/>
<circle cx="537.8" cy="62.3" r="2.2" fill="#00b0f7" fill-opacity="0.72" stroke="#00aaf3" stroke-opacity="1" stroke-width="0.85"/>
<circle cx="515.8" cy="71.7" r="2.2" fill="#00b0f7" fill-opacity="0.72" stroke="#00aaf3" stroke-opacity="1" stroke-width="0.85"/>
<circle cx="510.4" cy="77.3" r="2.2" fill="#00b0f7" fill-opacity="0.72" stroke="#00aaf3" stroke-opacity="1" stroke-width="0.85"/>
<circle cx="514.6" cy="75.9" r="2.2" fill="#00b0f7" fill-opacity="0.72" stroke="#00aaf3" stroke-opacity="1" stroke-width="0.85"/>
<circle cx="500.6" cy="83.4" r="2.2" fill="#00b0f7" fill-opacity="0.72" stroke="#00aaf3" stroke-opacity="1" stroke-width="0.85"/>
<circle cx="505.1" cy="83.4" r="2.2" fill="#00b0f7" fill-opacity="0.72" stroke="#00aaf3" stroke-opacity="1" stroke-width="0.85"/>
<circle cx="509.0" cy="82.5" r="2.2" fill="#00b0f7" fill-opacity="0.72" stroke="#00aaf3" stroke-opacity="1" stroke-width="0.85"/>
<circle cx="517.2" cy="81.1" r="2.2" fill="#00b0f7" fill-opacity="0.72" stroke="#00aaf3" stroke-opacity="1" stroke-width="0.85"/>
<circle cx="522.8" cy="82.5" r="2.2" fill="#00b0f7" fill-opacity="0.72" stroke="#00aaf3" stroke-opacity="1" stroke-width="0.85"/>
<circle cx="530.1" cy="85.1" r="2.2" fill="#00b0f7" fill-opacity="0.72" stroke="#00aaf3" stroke-opacity="1" stroke-width="0.85"/>
<circle cx="518.1" cy="86.7" r="2.2" fill="#00b0f7" fill-opacity="0.72" stroke="#00aaf3" stroke-opacity="1" stroke-width="0.85"/>
<circle cx="517.2" cy="88.6" r="2.2" fill="#00b0f7" fill-opacity="0.72" stroke="#00aaf3" stroke-opacity="1" stroke-width="0.85"/>
<circle cx="500.9" cy="89.3" r="2.2" fill="#00b0f7" fill-opacity="0.72" stroke="#00aaf3" stroke-opacity="1" stroke-width="0.85"/>
<circle cx="501.7" cy="91.4" r="2.2" fill="#00b0f7" fill-opacity="0.72" stroke="#00aaf3" stroke-opacity="1" stroke-width="0.85"/>
<circle cx="514.2" cy="92.1" r="2.2" fill="#00b0f7" fill-opacity="0.72" stroke="#00aaf3" stroke-opacity="1" stroke-width="0.85"/>
<circle cx="546.9" cy="89.5" r="2.2" fill="#00b0f7" fill-opacity="0.72" stroke="#00aaf3" stroke-opacity="1" stroke-width="0.85"/>
<circle cx="563.1" cy="93.7" r="2.2" fill="#00b0f7" fill-opacity="0.72" stroke="#00aaf3" stroke-opacity="1" stroke-width="0.85"/>
<circle cx="536.8" cy="95.5" r="2.2" fill="#00b0f7" fill-opacity="0.72" stroke="#00aaf3" stroke-opacity="1" stroke-width="0.85"/>
<circle cx="435.2" cy="105.7" r="2.2" fill="#00b0f7" fill-opacity="0.72" stroke="#00aaf3" stroke-opacity="1" stroke-width="0.85"/>
<circle cx="440.6" cy="106.2" r="2.2" fill="#00b0f7" fill-opacity="0.72" stroke="#00aaf3" stroke-opacity="1" stroke-width="0.85"/>
<circle cx="429.9" cy="114.5" r="2.2" fill="#00b0f7" fill-opacity="0.72" stroke="#00aaf3" stroke-opacity="1" stroke-width="0.85"/>
<circle cx="454.7" cy="105.7" r="2.2" fill="#00b0f7" fill-opacity="0.72" stroke="#00aaf3" stroke-opacity="1" stroke-width="0.85"/>
<circle cx="464.6" cy="101.3" r="2.2" fill="#00b0f7" fill-opacity="0.72" stroke="#00aaf3" stroke-opacity="1" stroke-width="0.85"/>
<circle cx="463.2" cy="103.6" r="2.2" fill="#00b0f7" fill-opacity="0.72" stroke="#00aaf3" stroke-opacity="1" stroke-width="0.85"/>
<circle cx="459.6" cy="108.2" r="2.2" fill="#00b0f7" fill-opacity="0.72" stroke="#00aaf3" stroke-opacity="1" stroke-width="0.85"/>
<circle cx="457.1" cy="111.5" r="2.2" fill="#00b0f7" fill-opacity="0.72" stroke="#00aaf3" stroke-opacity="1" stroke-width="0.85"/>
<circle cx="476.1" cy="105.7" r="2.2" fill="#00b0f7" fill-opacity="0.72" stroke="#00aaf3" stroke-opacity="1" stroke-width="0.85"/>
<circle cx="478.6" cy="105.2" r="2.2" fill="#00b0f7" fill-opacity="0.72" stroke="#00aaf3" stroke-opacity="1" stroke-width="0.85"/>
<circle cx="476.1" cy="110.7" r="2.2" fill="#00b0f7" fill-opacity="0.72" stroke="#00aaf3" stroke-opacity="1" stroke-width="0.85"/>
<circle cx="486.8" cy="105.7" r="2.2" fill="#00b0f7" fill-opacity="0.72" stroke="#00aaf3" stroke-opacity="1" stroke-width="0.85"/>
<circle cx="490.6" cy="105.2" r="2.2" fill="#00b0f7" fill-opacity="0.72" stroke="#00aaf3" stroke-opacity="1" stroke-width="0.85"/>
<circle cx="486.0" cy="111.2" r="2.2" fill="#00b0f7" fill-opacity="0.72" stroke="#00aaf3" stroke-opacity="1" stroke-width="0.85"/>
<circle cx="492.6" cy="112.3" r="2.2" fill="#00b0f7" fill-opacity="0.72" stroke="#00aaf3" stroke-opacity="1" stroke-width="0.85"/>
<circle cx="496.2" cy="114.0" r="2.2" fill="#00b0f7" fill-opacity="0.72" stroke="#00aaf3" stroke-opacity="1" stroke-width="0.85"/>
<circle cx="497.6" cy="108.2" r="2.2" fill="#00b0f7" fill-opacity="0.72" stroke="#00aaf3" stroke-opacity="1" stroke-width="0.85"/>
<circle cx="497.6" cy="101.6" r="2.2" fill="#00b0f7" fill-opacity="0.72" stroke="#00aaf3" stroke-opacity="1" stroke-width="0.85"/>
<circle cx="497.6" cy="96.7" r="2.2" fill="#00b0f7" fill-opacity="0.72" stroke="#00aaf3" stroke-opacity="1" stroke-width="0.85"/>
<circle cx="453.0" cy="116.5" r="2.2" fill="#00b0f7" fill-opacity="0.72" stroke="#00aaf3" stroke-opacity="1" stroke-width="0.85"/>
<circle cx="460.4" cy="115.6" r="2.2" fill="#00b0f7" fill-opacity="0.72" stroke="#00aaf3" stroke-opacity="1" stroke-width="0.85"/>
<circle cx="461.3" cy="118.9" r="2.2" fill="#00b0f7" fill-opacity="0.72" stroke="#00aaf3" stroke-opacity="1" stroke-width="0.85"/>
<circle cx="466.2" cy="118.9" r="2.2" fill="#00b0f7" fill-opacity="0.72" stroke="#00aaf3" stroke-opacity="1" stroke-width="0.85"/>
<circle cx="468.7" cy="121.4" r="2.2" fill="#00b0f7" fill-opacity="0.72" stroke="#00aaf3" stroke-opacity="1" stroke-width="0.85"/>
<circle cx="473.6" cy="117.3" r="2.2" fill="#00b0f7" fill-opacity="0.72" stroke="#00aaf3" stroke-opacity="1" stroke-width="0.85"/>
<circle cx="486.0" cy="118.9" r="2.2" fill="#00b0f7" fill-opacity="0.72" stroke="#00aaf3" stroke-opacity="1" stroke-width="0.85"/>
<circle cx="488.5" cy="120.6" r="2.2" fill="#00b0f7" fill-opacity="0.72" stroke="#00aaf3" stroke-opacity="1" stroke-width="0.85"/>
<circle cx="490.1" cy="123.1" r="2.2" fill="#00b0f7" fill-opacity="0.72" stroke="#00aaf3" stroke-opacity="1" stroke-width="0.85"/>
<circle cx="446.4" cy="121.4" r="2.2" fill="#00b0f7" fill-opacity="0.72" stroke="#00aaf3" stroke-opacity="1" stroke-width="0.85"/>
<circle cx="439.8" cy="125.5" r="2.2" fill="#00b0f7" fill-opacity="0.72" stroke="#00aaf3" stroke-opacity="1" stroke-width="0.85"/>
<circle cx="443.1" cy="125.5" r="2.2" fill="#00b0f7" fill-opacity="0.72" stroke="#00aaf3" stroke-opacity="1" stroke-width="0.85"/>
<circle cx="429.9" cy="129.3" r="2.2" fill="#00b0f7" fill-opacity="0.72" stroke="#00aaf3" stroke-opacity="1" stroke-width="0.85"/>
<circle cx="436.5" cy="130.5" r="2.2" fill="#00b0f7" fill-opacity="0.72" stroke="#00aaf3" stroke-opacity="1" stroke-width="0.85"/>
<circle cx="441.5" cy="130.5" r="2.2" fill="#00b0f7" fill-opacity="0.72" stroke="#00aaf3" stroke-opacity="1" stroke-width="0.85"/>
<circle cx="432.4" cy="134.6" r="2.2" fill="#00b0f7" fill-opacity="0.72" stroke="#00aaf3" stroke-opacity="1" stroke-width="0.85"/>
<circle cx="438.2" cy="134.6" r="2.2" fill="#00b0f7" fill-opacity="0.72" stroke="#00aaf3" stroke-opacity="1" stroke-width="0.85"/>
<circle cx="444.8" cy="133.8" r="2.2" fill="#00b0f7" fill-opacity="0.72" stroke="#00aaf3" stroke-opacity="1" stroke-width="0.85"/>
<circle cx="451.4" cy="134.3" r="2.2" fill="#00b0f7" fill-opacity="0.72" stroke="#00aaf3" stroke-opacity="1" stroke-width="0.85"/>
<circle cx="464.6" cy="127.2" r="2.2" fill="#00b0f7" fill-opacity="0.72" stroke="#00aaf3" stroke-opacity="1" stroke-width="0.85"/>
<circle cx="480.2" cy="127.7" r="2.2" fill="#00b0f7" fill-opacity="0.72" stroke="#00aaf3" stroke-opacity="1" stroke-width="0.85"/>
<circle cx="492.6" cy="127.7" r="2.2" fill="#00b0f7" fill-opacity="0.72" stroke="#00aaf3" stroke-opacity="1" stroke-width="0.85"/>
<circle cx="439.0" cy="140.4" r="2.2" fill="#00b0f7" fill-opacity="0.72" stroke="#00aaf3" stroke-opacity="1" stroke-width="0.85"/>
<circle cx="445.6" cy="137.9" r="2.2" fill="#00b0f7" fill-opacity="0.72" stroke="#00aaf3" stroke-opacity="1" stroke-width="0.85"/>
<circle cx="452.2" cy="139.2" r="2.2" fill="#00b0f7" fill-opacity="0.72" stroke="#00aaf3" stroke-opacity="1" stroke-width="0.85"/>
<circle cx="460.1" cy="137.1" r="2.2" fill="#00b0f7" fill-opacity="0.72" stroke="#00aaf3" stroke-opacity="1" stroke-width="0.85"/>
<circle cx="491.3" cy="138.2" r="2.2" fill="#00b0f7" fill-opacity="0.72" stroke="#00aaf3" stroke-opacity="1" stroke-width="0.85"/>
<circle cx="510.3" cy="97.6" r="2.2" fill="#00b0f7" fill-opacity="0.72" stroke="#00aaf3" stroke-opacity="1" stroke-width="0.85"/>
<circle cx="523.0" cy="99.9" r="2.2" fill="#00b0f7" fill-opacity="0.72" stroke="#00aaf3" stroke-opacity="1" stroke-width="0.85"/>
<circle cx="523.9" cy="103.5" r="2.2" fill="#00b0f7" fill-opacity="0.72" stroke="#00aaf3" stroke-opacity="1" stroke-width="0.85"/>
<circle cx="536.5" cy="109.3" r="2.2" fill="#00b0f7" fill-opacity="0.72" stroke="#00aaf3" stroke-opacity="1" stroke-width="0.85"/>
<circle cx="504.9" cy="104.1" r="2.2" fill="#00b0f7" fill-opacity="0.72" stroke="#00aaf3" stroke-opacity="1" stroke-width="0.85"/>
<circle cx="496.8" cy="97.2" r="2.2" fill="#00b0f7" fill-opacity="0.72" stroke="#00aaf3" stroke-opacity="1" stroke-width="0.85"/>
<circle cx="499.5" cy="102.6" r="2.2" fill="#00b0f7" fill-opacity="0.72" stroke="#00aaf3" stroke-opacity="1" stroke-width="0.85"/>
<circle cx="497.7" cy="108.0" r="2.2" fill="#00b0f7" fill-opacity="0.72" stroke="#00aaf3" stroke-opacity="1" stroke-width="0.85"/>
<circle cx="496.4" cy="113.8" r="2.2" fill="#00b0f7" fill-opacity="0.72" stroke="#00aaf3" stroke-opacity="1" stroke-width="0.85"/>
<circle cx="504.0" cy="118.5" r="2.2" fill="#00b0f7" fill-opacity="0.72" stroke="#00aaf3" stroke-opacity="1" stroke-width="0.85"/>
<circle cx="517.6" cy="116.7" r="2.2" fill="#00b0f7" fill-opacity="0.72" stroke="#00aaf3" stroke-opacity="1" stroke-width="0.85"/>
<circle cx="523.9" cy="125.2" r="2.2" fill="#00b0f7" fill-opacity="0.72" stroke="#00aaf3" stroke-opacity="1" stroke-width="0.85"/>
<line x1="431.0" y1="129.0" x2="563.7" y2="62.9" stroke="#00b0f3" stroke-width="1.7"/>
<line x1="429.1" y1="141.2" x2="563.6" y2="116.2" stroke="#c94040" stroke-width="1.45"/>
</g>
<rect x="420.5" y="13.7" width="152.10" height="135.30" fill="none" stroke="#8c8c8c" stroke-width="1.3"/>
<rect x="504.5" y="16.8" width="64.90" height="20.80" rx="1.6" fill="#fff" fill-opacity="0.8" stroke="#d6d6d6" stroke-width="0.8"/>
<line x1="506.5" y1="22.00" x2="521.10" y2="22.00" stroke="#00b0f3" stroke-width="1.7"/>
<line x1="506.5" y1="31.10" x2="521.10" y2="31.10" stroke="#c94040" stroke-width="1.45"/>
<text x="526.00" y="25.00" font-size="6.6" fill="#262626">y=0.71x+0.18</text>
<text x="526.00" y="33.90" font-size="6.6" fill="#262626">y=0.216x</text>
<text x="304" y="192.7" font-size="10.6" font-weight="bold" text-anchor="middle" fill="#000">d</text>
<line x1="169.5" y1="197.0" x2="545.6" y2="197.0" stroke="#333333" stroke-width="1.2"/>
<line x1="26.1" y1="221.1" x2="545.6" y2="221.1" stroke="#333333" stroke-width="1.2"/>
<line x1="26.1" y1="245.5" x2="545.6" y2="245.5" stroke="#333333" stroke-width="1.2"/>
<line x1="26.1" y1="269.8" x2="545.6" y2="269.8" stroke="#333333" stroke-width="1.2"/>
<line x1="26.1" y1="293.9" x2="545.6" y2="293.9" stroke="#333333" stroke-width="1.2"/>
<line x1="26.1" y1="318.1" x2="545.6" y2="318.1" stroke="#333333" stroke-width="1.2"/>
<line x1="26.1" y1="221.1" x2="26.1" y2="318.1" stroke="#333333" stroke-width="1.2"/>
<line x1="169.5" y1="197.0" x2="169.5" y2="318.1" stroke="#333333" stroke-width="1.2"/>
<line x1="223.22857142857143" y1="197.0" x2="223.22857142857143" y2="318.1" stroke="#333333" stroke-width="1.2"/>
<line x1="276.95714285714286" y1="197.0" x2="276.95714285714286" y2="318.1" stroke="#333333" stroke-width="1.2"/>
<line x1="330.6857142857143" y1="197.0" x2="330.6857142857143" y2="318.1" stroke="#333333" stroke-width="1.2"/>
<line x1="384.4142857142857" y1="197.0" x2="384.4142857142857" y2="318.1" stroke="#333333" stroke-width="1.2"/>
<line x1="438.14285714285717" y1="197.0" x2="438.14285714285717" y2="318.1" stroke="#333333" stroke-width="1.2"/>
<line x1="491.8714285714286" y1="197.0" x2="491.8714285714286" y2="318.1" stroke="#333333" stroke-width="1.2"/>
<line x1="545.6" y1="197.0" x2="545.6" y2="318.1" stroke="#333333" stroke-width="1.2"/>
<text x="196.36" y="211.85" font-size="9.3" text-anchor="middle" fill="#262626">coef</text>
<text x="250.09" y="211.85" font-size="9.3" text-anchor="middle" fill="#262626">std err</text>
<text x="303.82" y="211.85" font-size="9.3" text-anchor="middle" fill="#262626">t</text>
<text x="357.55" y="211.85" font-size="9.3" text-anchor="middle" fill="#262626">P&gt;|t|</text>
<text x="411.28" y="211.85" font-size="9.3" text-anchor="middle" fill="#262626">[0.025</text>
<text x="465.01" y="211.85" font-size="9.3" text-anchor="middle" fill="#262626">0.975]</text>
<text x="518.74" y="211.85" font-size="9.3" text-anchor="middle" fill="#262626">VIF</text>
<text x="41" y="236.10" font-size="9.3" fill="#262626">Constant</text>
<text x="218.23" y="236.10" font-size="9.3" text-anchor="end" fill="#262626">-0.096</text>
<text x="271.96" y="236.10" font-size="9.3" text-anchor="end" fill="#262626">0.053</text>
<text x="325.69" y="236.10" font-size="9.3" text-anchor="end" fill="#262626">-1.813</text>
<text x="379.41" y="236.10" font-size="9.3" text-anchor="end" fill="#262626">0.073</text>
<text x="433.14" y="236.10" font-size="9.3" text-anchor="end" fill="#262626">-0.2</text>
<text x="486.87" y="236.10" font-size="9.3" text-anchor="end" fill="#262626">0.009</text>
<text x="540.60" y="236.10" font-size="9.3" text-anchor="end" fill="#262626">-</text>
<text x="41" y="260.45" font-size="9.3" fill="#262626">Meat consumption per capita</text>
<text x="218.23" y="260.45" font-size="9.3" text-anchor="end" fill="#262626">0.216</text>
<text x="271.96" y="260.45" font-size="9.3" text-anchor="end" fill="#262626">0.09</text>
<text x="325.69" y="260.45" font-size="9.3" text-anchor="end" fill="#262626">2.408</text>
<text x="379.41" y="260.45" font-size="9.3" text-anchor="end" fill="#262626">0.018</text>
<text x="433.14" y="260.45" font-size="9.3" text-anchor="end" fill="#262626">0.038</text>
<text x="486.87" y="260.45" font-size="9.3" text-anchor="end" fill="#262626">0.393</text>
<text x="540.60" y="260.45" font-size="9.3" text-anchor="end" fill="#262626">9.482</text>
<text x="41" y="284.65" font-size="9.3" fill="#262626">GDP per capita</text>
<text x="218.23" y="284.65" font-size="9.3" text-anchor="end" fill="#262626">0.13</text>
<text x="271.96" y="284.65" font-size="9.3" text-anchor="end" fill="#262626">0.083</text>
<text x="325.69" y="284.65" font-size="9.3" text-anchor="end" fill="#262626">1.57</text>
<text x="379.41" y="284.65" font-size="9.3" text-anchor="end" fill="#262626">0.119</text>
<text x="433.14" y="284.65" font-size="9.3" text-anchor="end" fill="#262626">-0.034</text>
<text x="486.87" y="284.65" font-size="9.3" text-anchor="end" fill="#262626">0.294</text>
<text x="540.60" y="284.65" font-size="9.3" text-anchor="end" fill="#262626">2.886</text>
<text x="41" y="308.80" font-size="9.3" fill="#262626">Mean years of schooling</text>
<text x="218.23" y="308.80" font-size="9.3" text-anchor="end" fill="#262626">0.433</text>
<text x="271.96" y="308.80" font-size="9.3" text-anchor="end" fill="#262626">0.099</text>
<text x="325.69" y="308.80" font-size="9.3" text-anchor="end" fill="#262626">4.359</text>
<text x="379.41" y="308.80" font-size="9.3" text-anchor="end" fill="#262626">0.0</text>
<text x="433.14" y="308.80" font-size="9.3" text-anchor="end" fill="#262626">0.236</text>
<text x="486.87" y="308.80" font-size="9.3" text-anchor="end" fill="#262626">0.63</text>
<text x="540.60" y="308.80" font-size="9.3" text-anchor="end" fill="#262626">7.82</text>
</svg></body></html>
